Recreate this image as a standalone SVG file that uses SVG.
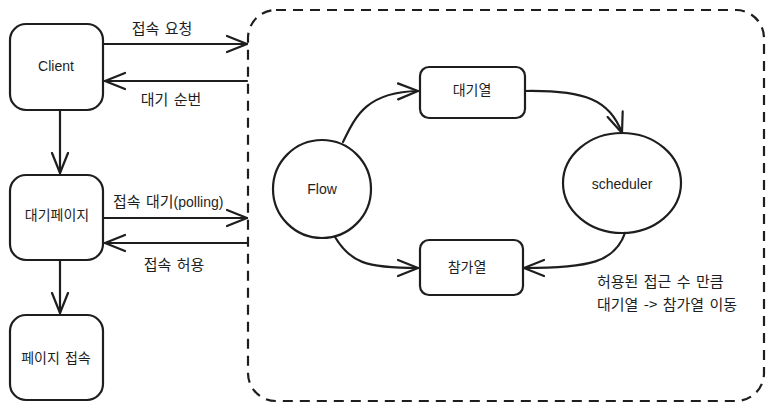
<svg xmlns="http://www.w3.org/2000/svg" width="771" height="412" viewBox="0 0 771 412">
<defs>
<style>
.node{fill:#fff;stroke:#1e1e1e;stroke-width:2.2}
.edge{fill:none;stroke:#1e1e1e;stroke-width:2.2;stroke-linecap:round;marker-end:url(#arr)}
.kr{font-family:"Noto Sans CJK KR","Noto Sans",sans-serif;fill:#1e1e1e}
.lbl{font-size:15px;word-spacing:2px}
.nt{font-size:14px;word-spacing:2px}
.en{font-family:"Liberation Sans","DejaVu Sans",sans-serif;font-size:14px;fill:#1e1e1e}
.box{fill:none;stroke:#1e1e1e;stroke-width:2.2;stroke-dasharray:10 7}
</style>
<marker id="arr" markerUnits="userSpaceOnUse" markerWidth="24" markerHeight="24" viewBox="0 0 24 24" refX="21" refY="12" orient="auto">
<path d="M1,4 L21,12 L1,20" fill="none" stroke="#1e1e1e" stroke-width="2.2" stroke-linecap="round" stroke-linejoin="round"/>
</marker>
</defs>
<rect width="771" height="412" fill="#fff"/>
<g id="container"><rect class="box" x="248" y="10" width="516" height="391" rx="28"/></g>
<g id="client"><rect class="node" x="10" y="24" width="93" height="86" rx="16"/><text class="en" x="56" y="71" text-anchor="middle">Client</text></g>
<g id="waitpage"><rect class="node" x="10" y="175" width="93" height="85" rx="16"/><text class="kr nt" x="57" y="220" text-anchor="middle">대기페이지</text></g>
<g id="pageaccess"><rect class="node" x="10" y="315" width="93" height="85" rx="16"/><text class="kr nt" x="56" y="363" text-anchor="middle">페이지 접속</text></g>
<g id="flow"><circle class="node" cx="322" cy="189" r="49"/><text class="en" x="322" y="194" text-anchor="middle">Flow</text></g>
<g id="waitqueue"><rect class="node" x="420" y="67" width="105" height="51" rx="9"/><text class="kr nt" x="472" y="95" text-anchor="middle">대기열</text></g>
<g id="joinqueue"><rect class="node" x="420" y="240" width="103" height="55" rx="9"/><text class="kr nt" x="467" y="272" text-anchor="middle">참가열</text></g>
<g id="scheduler"><ellipse class="node" cx="622" cy="183" rx="59" ry="50"/><text class="en" x="622" y="189" text-anchor="middle">scheduler</text></g>
<g id="connectors">
<path class="edge" d="M104,44 L247,44"/>
<path class="edge" d="M247,81 L105,81"/>
<path class="edge" d="M60,110 L60,173"/>
<path class="edge" d="M104,218 L247,218"/>
<path class="edge" d="M247,243 L105,243"/>
<path class="edge" d="M60,260 L60,313"/>
<path class="edge" d="M343,142 C355,118 365,92 418,91"/>
<path class="edge" d="M335,237 C350,262 365,268 418,268"/>
<path class="edge" d="M525,91 C585,90 610,100 622,133"/>
<path class="edge" d="M625,233 C615,262 590,268 524,268"/>
</g>
<g id="labels">
<text class="kr lbl" x="162" y="34" text-anchor="middle">접속 요청</text>
<text class="kr lbl" x="171" y="105" text-anchor="middle">대기 순번</text>
<text class="kr lbl" x="113" y="207">접속 대기<tspan class="en" font-size="14">(polling)</tspan></text>
<text class="kr lbl" x="174" y="270" text-anchor="middle">접속 허용</text>
<text class="kr lbl" x="597" y="287">허용된 접근 수 만큼</text>
<text class="kr lbl" x="597" y="310">대기열 -&gt; 참가열 이동</text>
</g>
</svg>
